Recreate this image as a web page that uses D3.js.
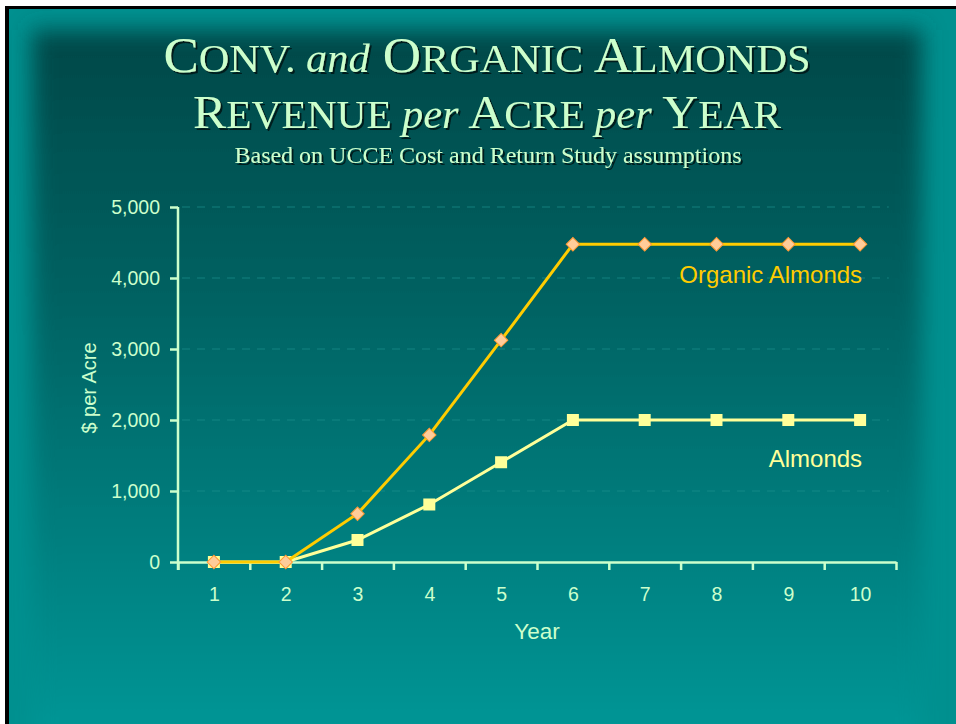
<!DOCTYPE html>
<html>
<head>
<meta charset="utf-8">
<style>
html, body { margin: 0; padding: 0; background: #00908f; overflow: hidden; }
svg { display: block; }
.axis path, .axis line { stroke: #ccffcc; stroke-width: 2.5; }
.axis text { fill: #ccffcc; font-family: "Liberation Sans", Arial, sans-serif; font-size: 19.5px; }
.grid line { stroke: #1b8f8c; stroke-width: 1; stroke-dasharray: 8 7; opacity: 0.7; }
.title { font-family: "Liberation Serif", "Times New Roman", serif; fill: #ccffcc; }
</style>
</head>
<body>
<script src="https://cdn.jsdelivr.net/npm/d3@7/dist/d3.min.js"></script>
<script>
var years = [1, 2, 3, 4, 5, 6, 7, 8, 9, 10]
var organic = [0, 0, 680, 1790, 3125, 4475, 4475, 4475, 4475, 4475]
var almonds = [0, 0, 310, 810, 1405, 2000, 2000, 2000, 2000, 2000]
var yTicks = [0, 1000, 2000, 3000, 4000, 5000]

var width = 956
var height = 724

var svg = d3.select('body').append('svg')
    .attr('width', width)
    .attr('height', height)

var defs = svg.append('defs')
var grad = defs.append('linearGradient')
    .attr('id', 'bg').attr('x1', 0).attr('y1', 0).attr('x2', 0).attr('y2', 1)
grad.append('stop').attr('offset', '0%').attr('stop-color', '#034848')
grad.append('stop').attr('offset', '35%').attr('stop-color', '#036060')
grad.append('stop').attr('offset', '100%').attr('stop-color', '#009898')
defs.append('filter').attr('id', 'soft')
    .attr('x', '-10%').attr('y', '-10%').attr('width', '120%').attr('height', '120%')
  .append('feGaussianBlur').attr('stdDeviation', 11)
defs.append('filter').attr('id', 'shadow')
    .attr('x', '-5%').attr('y', '-20%').attr('width', '110%').attr('height', '140%')
  .append('feDropShadow')
    .attr('dx', 2).attr('dy', 2).attr('stdDeviation', 0.6)
    .attr('flood-color', '#011a1a').attr('flood-opacity', 1)

// slide background, black edge on top and left only
svg.append('rect').attr('x', 0).attr('y', 0).attr('width', width).attr('height', height).attr('fill', '#00908f')
svg.append('rect')
    .attr('x', 32).attr('y', 30).attr('width', 890).attr('height', 720)
    .attr('fill', 'url(#bg)')
    .attr('filter', 'url(#soft)')
svg.append('rect').attr('x', 0).attr('y', 0).attr('width', width).attr('height', 6).attr('fill', '#fff')
svg.append('rect').attr('x', 0).attr('y', 0).attr('width', 5).attr('height', height).attr('fill', '#fff')
svg.append('rect').attr('x', 5).attr('y', 6).attr('width', width - 5).attr('height', 3).attr('fill', '#000')
svg.append('rect').attr('x', 5).attr('y', 6).attr('width', 4).attr('height', height - 6).attr('fill', '#000')

// title
var cx = 487
function titleLine(parts, y, target) {
    var t = svg.append('text')
        .attr('class', 'title')
        .attr('x', cx)
        .attr('y', y)
        .attr('text-anchor', 'middle')
        .attr('textLength', target)
        .attr('lengthAdjust', 'spacingAndGlyphs')
        .attr('filter', 'url(#shadow)')
    parts.forEach(function (p) {
        t.append('tspan')
            .attr('font-size', p[1])
            .attr('font-style', p[2] ? 'italic' : null)
            .text(p[0])
    })
}
titleLine([['C', 50], ['ONV. ', 40], ['and', 40, true], [' O', 50], ['RGANIC ', 40], ['A', 50], ['LMONDS', 40]], 72, 647)
titleLine([['R', 47], ['EVENUE ', 39], ['per', 40, true], [' A', 47], ['CRE ', 39], ['per', 40, true], [' Y', 47], ['EAR', 39]], 128, 588)
svg.append('text')
    .attr('class', 'title')
    .attr('x', cx + 1)
    .attr('y', 163)
    .attr('text-anchor', 'middle')
    .attr('font-size', 23)
    .attr('textLength', 507)
    .attr('lengthAdjust', 'spacingAndGlyphs')
    .attr('filter', 'url(#shadow)')
    .text('Based on UCCE Cost and Return Study assumptions')

// scales
var x = d3.scaleLinear().domain([0.5, 10.5]).range([178, 896])
var y = d3.scaleLinear().domain([0, 5000]).range([562, 207])

// grid
svg.append('g').attr('class', 'grid')
  .selectAll('line').data(yTicks.slice(1)).enter().append('line')
    .attr('x1', x(0.5) + 4).attr('x2', x(10.4))
    .attr('y1', function (d) { return y(d) }).attr('y2', function (d) { return y(d) })

// axes
var gy = svg.append('g').attr('class', 'axis')
    .attr('transform', 'translate(' + x(0.5) + ',0)')
    .call(d3.axisLeft(y).tickValues(yTicks).tickSize(8).tickPadding(10).tickFormat(d3.format(',')))
gy.select('.domain').remove()
gy.append('line').attr('x1', 0).attr('x2', 0).attr('y1', y(5000)).attr('y2', y(0) + 8)

svg.append('g').attr('class', 'axis')
    .attr('transform', 'translate(0,' + y(0) + ')')
    .call(d3.axisBottom(x).tickValues(d3.range(0.5, 11, 1)).tickSize(8).tickSizeOuter(0).tickFormat(''))
svg.append('g').attr('class', 'axis')
    .attr('transform', 'translate(0,' + y(0) + ')')
    .call(d3.axisBottom(x).tickValues(years).tickSize(0).tickPadding(25).tickFormat(d3.format('d')))
  .select('.domain').remove()

svg.append('text')
    .attr('x', (x(0.5) + x(10.5)) / 2).attr('y', 639)
    .attr('text-anchor', 'middle')
    .attr('fill', '#ccffcc')
    .attr('font-family', '"Liberation Sans", Arial, sans-serif')
    .attr('font-size', 22.5)
    .text('Year')

svg.append('text')
    .attr('transform', 'translate(96,388) rotate(-90)')
    .attr('text-anchor', 'middle')
    .attr('fill', '#ccffcc')
    .attr('font-family', '"Liberation Sans", Arial, sans-serif')
    .attr('font-size', 20)
    .text('$ per Acre')

// series
var line = d3.line()
    .x(function (d, i) { return x(years[i]) })
    .y(function (d) { return y(d) })

svg.append('path').datum(almonds)
    .attr('d', line).attr('fill', 'none')
    .attr('stroke', '#ffff99').attr('stroke-width', 3)
svg.append('g').selectAll('rect').data(almonds).enter().append('rect')
    .attr('x', function (d, i) { return x(years[i]) - 6 })
    .attr('y', function (d) { return y(d) - 6 })
    .attr('width', 12).attr('height', 12)
    .attr('fill', '#ffff99')

svg.append('path').datum(organic)
    .attr('d', line).attr('fill', 'none')
    .attr('stroke', '#ffcc00').attr('stroke-width', 3)
svg.append('g').selectAll('path').data(organic).enter().append('path')
    .attr('d', d3.symbol().type(d3.symbolSquare).size(90))
    .attr('transform', function (d, i) { return 'translate(' + x(years[i]) + ',' + y(d) + ') rotate(45)' })
    .attr('fill', '#ffcc99')
    .attr('stroke', '#ff9933')
    .attr('stroke-width', 1)

// series labels
svg.append('text')
    .attr('x', x(10) + 2).attr('y', y(organic[9]) + 39)
    .attr('text-anchor', 'end')
    .attr('fill', '#ffcc00')
    .attr('font-family', '"Liberation Sans", Arial, sans-serif')
    .attr('font-size', 24)
    .text('Organic Almonds')
svg.append('text')
    .attr('x', x(10) + 2).attr('y', y(almonds[9]) + 47)
    .attr('text-anchor', 'end')
    .attr('fill', '#ffff99')
    .attr('font-family', '"Liberation Sans", Arial, sans-serif')
    .attr('font-size', 24)
    .text('Almonds')
</script>
</body>
</html>
